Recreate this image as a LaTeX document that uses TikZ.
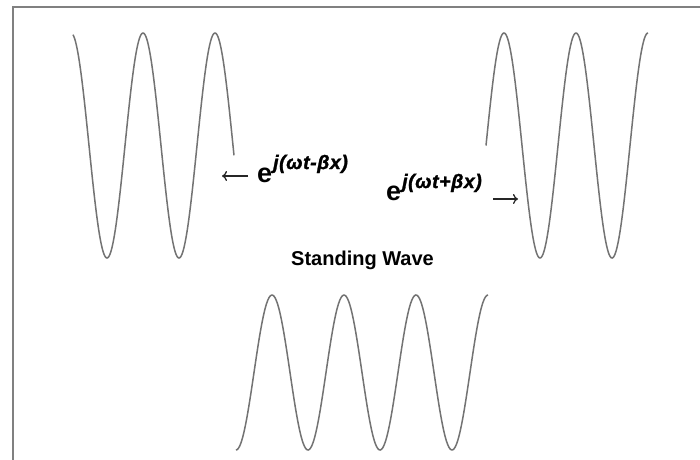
\documentclass[tikz,border=0pt]{standalone}
\usepackage{fontspec}
\setmainfont{Liberation Sans}
\newfontfamily\supfont[LetterSpace=3,FakeBold=1.5]{Liberation Sans}
\usetikzlibrary{arrows.meta}
\begin{document}
\begin{tikzpicture}[x=1pt,y=-1pt,
  wave/.style={draw=black!55,line width=1.5pt,smooth,samples=200},
  frame/.style={draw=black!50,line width=1.5pt},
  ebig/.style={inner sep=0pt,anchor=base west,font=\fontsize{27}{27}\selectfont\bfseries},
  sup/.style={inner sep=0pt,anchor=base west,font=\fontsize{19.5}{19.5}\supfont\bfseries\itshape},
  arr/.style={draw=black!85,line width=1.3pt,-{To[length=5pt,width=10pt]}},
  title/.style={inner sep=0pt,anchor=base,font=\fontsize{20}{20}\selectfont\bfseries}]
\useasboundingbox (0,0) rectangle (700,459);
\fill[white] (0,0) rectangle (700,459);
% frame
\draw[frame] (13,460) -- (13,7) -- (701,7);
% waves
\draw[wave] plot[domain=73:234] (\x,{145.5-112.5*cos(5*(\x-71))});
\draw[wave] plot[domain=486:648] (\x,{145.5-112.5*cos(5*(\x-504))});
\draw[wave] plot[domain=236:488] (\x,{372.5-77.5*cos(5*(\x-272))});
% labels
\node[ebig] (e1) at (257,182) {e};
\node[sup] (s1) at (273,169) {j(ωt-βx)};
\node[ebig] (e2) at (386,200) {e};
\node[sup] (s2) at (402,188) {j(ωt+βx)};
\coordinate (a1s) at (248,176);
\coordinate (a1e) at (222,176);
\coordinate (a2s) at (493,199);
\coordinate (a2e) at (518,199);
\draw[arr] (a1s) -- (a1e);
\draw[arr] (a2s) -- (a2e);
\node[title] (t) at (362.5,265) {Standing Wave};
\end{tikzpicture}
\end{document}
